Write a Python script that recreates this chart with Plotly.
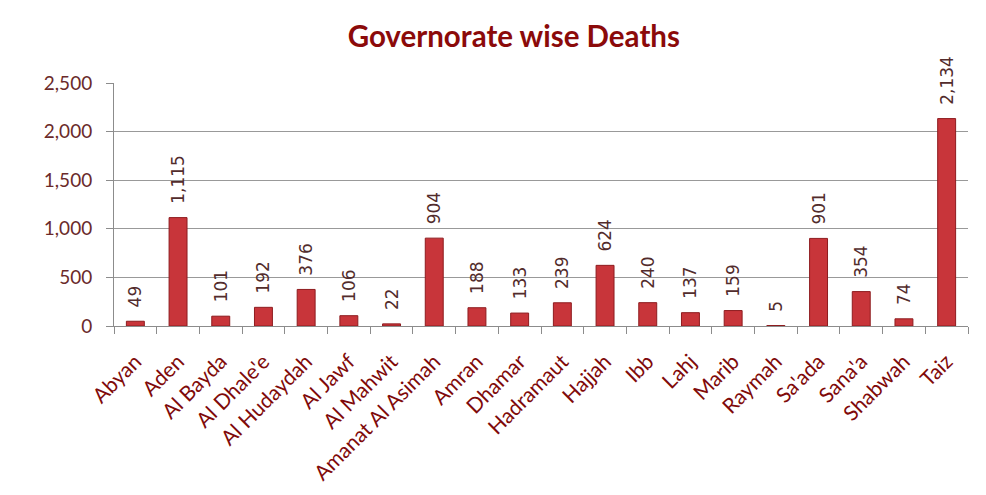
import plotly.graph_objects as go

categories = ["Abyan", "Aden", "Al Bayda", "Al Dhale'e", "Al Hudaydah", "Al Jawf",
              "Al Mahwit", "Amanat Al Asimah", "Amran", "Dhamar", "Hadramaut", "Hajjah",
              "Ibb", "Lahj", "Marib", "Raymah", "Sa'ada", "Sana'a", "Shabwah", "Taiz"]
deaths = [49, 1115, 101, 192, 376, 106, 22, 904, 188, 133, 239, 624, 240, 137, 159, 5,
          901, 354, 74, 2134]
y_ticks = [0, 500, 1000, 1500, 2000, 2500]

font_family = "Lato, 'Open Sans', sans-serif"
label_font = "'DejaVu Sans', Verdana, sans-serif"

fig = go.Figure()
fig.add_trace(go.Bar(
    x=categories,
    y=deaths,
    width=0.42,
    marker=dict(color="#C8353A", line=dict(color="#8E1C1F", width=1)),
    text=["\u00a0\u00a0" + f"{v:,}" for v in deaths],
    textposition="outside",
    textangle=-90,
    constraintext="none",
    cliponaxis=False,
    textfont=dict(family=label_font, size=17, color="#522c2c"),
    hoverinfo="x+y",
))

fig.update_layout(
    width=986, height=495,
    paper_bgcolor="white", plot_bgcolor="white",
    margin=dict(l=106, r=26, t=75, b=177, autoexpand=False),
    title=dict(text="<b>Governorate wise Deaths</b>", x=0.513, xanchor="center",
               y=1 - 29 / 495, yanchor="middle",
               font=dict(family=font_family, size=29.5, color="#8B0A0A")),
    showlegend=False,
)
fig.update_yaxes(
    range=[0, 2500], tickvals=y_ticks, tickformat=",",
    showgrid=True, gridcolor="#999999", gridwidth=1,
    showline=True, linecolor="#8c8c8c", linewidth=1,
    ticks="outside", ticklen=7, tickcolor="#8c8c8c", ticklabelstandoff=10,
    tickfont=dict(family=font_family, size=19, color="#6b2a2a"),
    zeroline=False,
)
fig.update_xaxes(
    showline=True, linecolor="#8c8c8c", linewidth=1,
    ticks="outside", ticklen=7, tickcolor="#8c8c8c", tickson="boundaries",
    tickangle=-45, ticklabelstandoff=14,
    tickfont=dict(family=font_family, size=21, color="#7F0A0A"),
)

fig.write_html("out.html")
